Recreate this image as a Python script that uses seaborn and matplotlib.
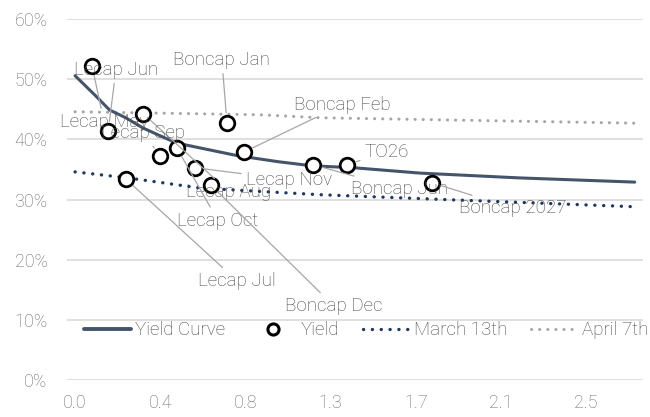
import matplotlib
matplotlib.use("Agg")
import matplotlib.pyplot as plt
import seaborn as sns
import pandas as pd
from matplotlib.lines import Line2D
from matplotlib.ticker import FuncFormatter, FixedLocator

# ---- data ----
bond_names = ["Lecap May", "Lecap Jun", "Lecap Jul", "Lecap Aug", "Lecap Sep", "Lecap Oct",
              "Lecap Nov", "Boncap Dec", "Boncap Jan", "Boncap Feb", "Boncap Jun", "TO26",
              "Boncap 2027"]
bond_duration = [0.084, 0.163, 0.251, 0.335, 0.419, 0.502, 0.591, 0.670, 0.749, 0.833,
                 1.172, 1.340, 1.759]
bond_yield = [0.522, 0.414, 0.334, 0.443, 0.373, 0.386, 0.353, 0.324, 0.428, 0.379,
              0.358, 0.358, 0.328]

curve_x = [0.0, 0.10, 0.17, 0.25, 0.335, 0.42, 0.50, 0.60, 0.70, 0.80, 1.00, 1.17, 1.37,
           1.70, 2.19, 2.76]
curve_y = [0.506, 0.473, 0.449, 0.436, 0.419, 0.406, 0.394, 0.387, 0.380, 0.373, 0.363,
           0.356, 0.353, 0.344, 0.336, 0.329]

march_x = [0.0, 0.26, 0.62, 1.21, 1.90, 2.76]
march_y = [0.346, 0.336, 0.319, 0.308, 0.299, 0.288]

april_x = [0.0, 0.91, 1.21, 2.76]
april_y = [0.446, 0.441, 0.436, 0.427]

x_ticks = [0.0, 0.42, 0.84, 1.26, 1.68, 2.10, 2.52]
y_ticks = [0.0, 0.1, 0.2, 0.3, 0.4, 0.5, 0.6]

# label placement (text centre, data coords) – layout only
label_pos = {
    "Lecap May": (0.143, 0.429), "Lecap Jun": (0.202, 0.516), "Lecap Jul": (0.798, 0.165),
    "Lecap Aug": (0.759, 0.313), "Lecap Sep": (0.335, 0.411), "Lecap Oct": (0.704, 0.265),
    "Lecap Nov": (1.054, 0.333), "Boncap Dec": (1.276, 0.123), "Boncap Jan": (0.724, 0.532),
    "Boncap Feb": (1.320, 0.458), "TO26": (1.537, 0.379), "Boncap Jun": (1.601, 0.318),
    "Boncap 2027": (2.158, 0.286),
}

sns.set_theme(style="white")
plt.rcParams["font.family"] = ["Roboto", "DejaVu Sans"]
plt.rcParams["font.weight"] = "light"

df_pts = pd.DataFrame({"duration": bond_duration, "yield": bond_yield, "name": bond_names})
df_curve = pd.DataFrame({"x": curve_x, "y": curve_y})
df_march = pd.DataFrame({"x": march_x, "y": march_y})
df_april = pd.DataFrame({"x": april_x, "y": april_y})

fig = plt.figure(figsize=(6.5, 4.17), dpi=100)
ax = fig.add_axes([0.103, 0.089, 0.886, 0.865])

curve_col = "#44546a"
march_col = "#1f3864"
april_col = "#a6a6a6"
text_col = "#474747"
tick_col = "#6b6b6b"

dot = (0, (0.05, 2.6))
sns.lineplot(data=df_april, x="x", y="y", ax=ax, color=april_col, lw=2.2,
             linestyle=dot, dash_capstyle="round")
sns.lineplot(data=df_march, x="x", y="y", ax=ax, color=march_col, lw=2.4,
             linestyle=dot, dash_capstyle="round")
sns.lineplot(data=df_curve, x="x", y="y", ax=ax, color=curve_col, lw=2.2)
sns.scatterplot(data=df_pts, x="duration", y="yield", ax=ax, s=110, facecolor="white",
                edgecolor="black", linewidth=2.0, zorder=5)

for name, x, y in zip(bond_names, bond_duration, bond_yield):
    tx, ty = label_pos[name]
    ax.annotate(name, xy=(x, y), xytext=(tx, ty), textcoords="data",
                ha="center", va="center", fontsize=13.5, color=text_col, zorder=6,
                fontweight="light",
                arrowprops=dict(arrowstyle="-", color="#a6a6a6", lw=0.9,
                                shrinkA=1, shrinkB=7))

ax.set_xlim(-0.04, 2.80)
ax.set_ylim(0, 0.6)
ax.xaxis.set_major_locator(FixedLocator(x_ticks))
ax.yaxis.set_major_locator(FixedLocator(y_ticks))
ax.xaxis.set_major_formatter(FuncFormatter(lambda v, p: f"{v:.1f}"))
ax.yaxis.set_major_formatter(FuncFormatter(lambda v, p: f"{v*100:.0f}%"))
ax.grid(axis="y", color="#d9d9d9", lw=1.2)
ax.grid(axis="x", visible=False)
for s in ax.spines.values():
    s.set_visible(False)
ax.tick_params(axis="both", length=0, labelsize=13, labelcolor=tick_col)
ax.tick_params(axis="x", pad=10)
ax.tick_params(axis="y", pad=14)
ax.set_xlabel("")
ax.set_ylabel("")

handles = [
    Line2D([], [], color=curve_col, lw=2.8),
    Line2D([], [], marker="o", ls="none", markerfacecolor="white", markeredgecolor="black",
           markeredgewidth=2.2, markersize=8),
    Line2D([], [], color=march_col, lw=2.4, linestyle=dot, dash_capstyle="round"),
    Line2D([], [], color=april_col, lw=2.2, linestyle=dot, dash_capstyle="round"),
]
labels = ["Yield Curve", "Yield", "March 13th", "April 7th"]
leg = ax.legend(handles, labels, loc="center", bbox_to_anchor=(0.52, 0.138), ncol=4,
                frameon=False, prop={"size": 13.5, "weight": "light"}, handlelength=2.5,
                handletextpad=0.2, columnspacing=1.3, labelcolor=text_col)

fig.savefig("out.png", dpi=100)
